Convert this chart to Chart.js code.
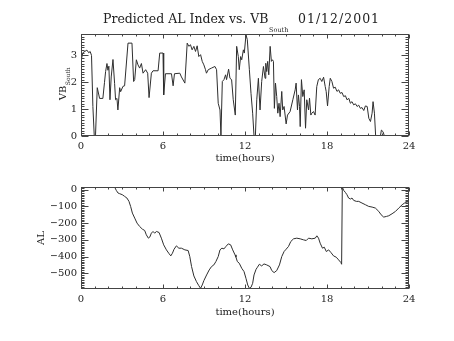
<!DOCTYPE html>
<html>
<head>
<meta charset="utf-8">
<script src="https://cdn.jsdelivr.net/npm/chart.js@4/dist/chart.umd.min.js"></script>
<style>
html, body { margin: 0; padding: 0; background: #fff; }
#wrap { position: relative; width: 454px; height: 341px; }
canvas { position: absolute; left: 0; }
</style>
</head>
<body>
<div id="wrap">
  <canvas id="vb-chart" width="454" height="170" style="top:0"></canvas>
  <canvas id="al-chart" width="454" height="171" style="top:170px"></canvas>
</div>
<script>
// time axis (hours) shared by both panels
const xTicks = [0, 6, 12, 18, 24];

// VB south, top panel
const tVB = [0, 0.13, 0.43, 0.57, 0.67, 0.77, 0.87, 0.97, 1.06, 1.19,
  1.36, 1.6, 1.72, 1.8, 1.9, 1.97, 2.04, 2.12, 2.21, 2.34,
  2.46, 2.53, 2.63, 2.7, 2.83, 2.9, 3.07, 3.19, 3.44, 3.73,
  3.85, 3.93, 4.05, 4.17, 4.29, 4.42, 4.54, 4.73, 4.88, 4.98,
  5.15, 5.27, 5.64, 5.76, 6.0, 6.05, 6.18, 6.62, 6.74, 6.84,
  7.23, 7.35, 7.6, 7.77, 7.89, 8.01, 8.13, 8.26, 8.38, 8.5,
  8.62, 8.75, 8.87, 8.99, 9.11, 9.18, 9.31, 9.55, 9.8, 9.92,
  10.04, 10.17, 10.24, 10.34, 10.46, 10.58, 10.65, 10.8, 10.9, 11.02,
  11.14, 11.29, 11.39, 11.51, 11.58, 11.68, 11.76, 11.88, 11.95, 12.07,
  12.17, 12.32, 12.44, 12.56, 12.66, 12.76, 12.86, 12.98, 13.1, 13.22,
  13.35, 13.47, 13.52, 13.59, 13.66, 13.74, 13.84, 13.93, 14.01, 14.08,
  14.15, 14.23, 14.32, 14.4, 14.49, 14.57, 14.69, 14.76, 14.86, 15.01,
  15.11, 15.3, 15.5, 15.67, 15.74, 15.84, 15.91, 15.99, 16.04, 16.13,
  16.23, 16.33, 16.43, 16.52, 16.65, 16.72, 16.82, 16.89, 17.01, 17.13,
  17.25, 17.37, 17.5, 17.62, 17.75, 17.87, 17.94, 18.04, 18.16, 18.24,
  18.36, 18.48, 18.6, 18.73, 18.85, 18.97, 19.1, 19.22, 19.35, 19.46,
  19.6, 19.71, 19.83, 19.95, 20.08, 20.2, 20.32, 20.44, 20.56, 20.69,
  20.81, 20.94, 21.06, 21.18, 21.3, 21.37, 21.47, 21.56,
  21.91, 21.98, 22.1, 22.2, 24];
const vbSouth = [2.78, 3.1, 3.2, 3.1, 3.15, 3.0, 1.1, 0, 0, 1.8,
  1.4, 1.4, 2.0, 2.4, 2.7, 2.45, 2.6, 1.35, 2.2, 2.85,
  1.95, 1.35, 1.4, 0.97, 1.8, 1.65, 1.85, 1.87, 3.46, 3.46,
  2.03, 2.1, 2.84, 2.65, 2.53, 2.7, 2.34, 2.47, 2.34, 1.43,
  2.34, 2.43, 2.43, 3.09, 3.09, 1.53, 2.32, 2.32, 1.87, 2.32,
  2.34, 2.2, 1.97, 3.46, 3.34, 3.4, 3.21, 3.34, 3.15, 3.36,
  2.96, 3.03, 2.78, 2.65, 2.47, 2.34, 2.47, 2.53, 2.59, 2.47,
  1.22, 0.97, 0, 2.03, 2.1, 2.28, 2.1, 2.49, 2.15, 2.1,
  1.35, 0.78, 3.34, 2.96, 2.47, 2.96, 2.84, 3.21, 3.09, 3.77,
  3.59, 2.47, 1.59, 0.85, 0, 0, 1.35, 2.15, 0.97, 2.03,
  2.59, 2.15, 2.71, 2.4, 2.78, 2.28, 3.34, 2.78, 2.84, 2.78,
  1.03, 1.97, 1.47, 0.85, 1.22, 0.72, 1.66, 0.97, 1.1, 0.45,
  0.78, 0.91, 1.35, 1.72, 1.97, 0.97, 1.53, 1.1, 0.35, 2.1,
  1.47, 1.72, 0.29, 1.35, 0.97, 1.41, 0.78, 0.85, 0.91, 0.78,
  1.84, 2.1, 2.15, 2.03, 2.19, 1.84, 1.66, 1.12, 1.84, 2.15,
  2.03, 1.78, 1.82, 1.66, 1.72, 1.59, 1.62, 1.47, 1.5, 1.35,
  1.4, 1.22, 1.28, 1.16, 1.2, 1.1, 1.15, 1.03, 1.06, 0.95,
  1.12, 1.1, 0.66, 0.54, 0.85, 1.28, 0.85, 0,
  0, 0.22, 0.16, 0, 0];
const vbTicks = [0, 1, 2, 3];

// predicted AL index, bottom panel
const tAL = [2.46, 2.58, 2.71, 2.83, 3.02, 3.19, 3.36, 3.51, 3.63, 3.76,
  3.93, 4.1, 4.29, 4.49, 4.66, 4.78, 4.93, 5.03, 5.15, 5.27,
  5.39, 5.52, 5.71, 5.88, 6.05, 6.25, 6.42, 6.57, 6.69, 6.81,
  6.98, 7.16, 7.35, 7.6, 7.84, 7.96, 8.09, 8.26, 8.45, 8.62,
  8.75, 8.87, 8.99, 9.19, 9.38, 9.55, 9.72, 9.87, 10.04, 10.17,
  10.31, 10.46, 10.6, 10.78, 10.95, 11.1, 11.27, 11.34, 11.44, 11.58,
  11.76, 11.93, 12.07, 12.2, 12.32, 12.44, 12.56, 12.66, 12.81, 12.91,
  13.05, 13.22, 13.39, 13.59, 13.83, 13.96, 14.13, 14.32, 14.52, 14.69,
  14.86, 15.01, 15.18, 15.35, 15.55, 15.79, 16.04, 16.28, 16.48, 16.65,
  16.89, 17.14, 17.26, 17.38, 17.5, 17.67, 17.8, 17.95, 18.12, 18.29,
  18.48, 18.68, 18.85, 19.02, 19.07, 19.12, 19.22, 19.34, 19.46, 19.58,
  19.71, 19.83, 19.95, 20.15, 20.32, 20.56, 20.81, 21.05, 21.3, 21.54,
  21.79, 21.96, 22.15, 22.35, 22.52, 22.76, 23.01, 23.25, 23.5, 23.67,
  23.82, 24];
const alIndex = [16, -4, -20, -24, -30, -40, -50, -70, -100, -140,
  -170, -200, -220, -236, -244, -270, -290, -284, -260, -250,
  -260, -250, -256, -290, -330, -360, -380, -396, -380, -356,
  -336, -350, -350, -360, -364, -400, -460, -516, -550, -574,
  -590, -570, -544, -510, -480, -460, -450, -430, -400, -360,
  -350, -354, -340, -324, -330, -360, -390, -404, -430, -440,
  -470, -490, -530, -570, -590, -584, -560, -510, -476, -464,
  -446, -456, -444, -450, -460, -484, -496, -484, -450, -400,
  -370, -356, -340, -310, -294, -290, -294, -300, -304, -290,
  -294, -290, -276, -290, -320, -350, -344, -370, -360, -376,
  -396, -404, -420, -436, -446, 16, -4, -16, -30, -50,
  -56, -50, -64, -70, -70, -80, -90, -100, -104, -110,
  -130, -150, -164, -160, -156, -144, -130, -110, -90, -80,
  -76, -70];
const alTicks = [0, -100, -200, -300, -400, -500];

const FONT = "'DejaVu Serif', serif";
const INK = "#222";

// IDL style box with inward tick marks + hand placed titles
const idlFrame = {
  id: "idlFrame",
  afterDraw(chart, args, o) {
    const { ctx, chartArea: a, scales: { x, y } } = chart;
    const L = Math.round(a.left) + 0.5, R = Math.round(a.right) - 0.5;
    const T = Math.round(a.top) + 0.5, B = Math.round(a.bottom) - 0.5;
    ctx.save();
    ctx.strokeStyle = "#444";
    ctx.lineWidth = 1;
    ctx.strokeRect(L, T, R - L, B - T);
    ctx.beginPath();
    for (let h = 0; h <= 24; h++) {
      const px = Math.round(x.getPixelForValue(h)) + 0.5;
      const len = h % 6 === 0 ? 4 : 2;
      ctx.moveTo(px, B); ctx.lineTo(px, B - len);
      ctx.moveTo(px, T); ctx.lineTo(px, T + len);
    }
    const i0 = Math.ceil(y.min / o.minor - 1e-6), i1 = Math.floor(y.max / o.minor + 1e-6);
    for (let i = i0; i <= i1; i++) {
      const v = i * o.minor;
      const r = v / o.major;
      const len = Math.abs(r - Math.round(r)) < 1e-6 ? 7 : 3;
      const py = Math.round(y.getPixelForValue(v)) + 0.5;
      ctx.moveTo(L, py); ctx.lineTo(L + len, py);
      ctx.moveTo(R, py); ctx.lineTo(R - len, py);
    }
    ctx.stroke();

    ctx.fillStyle = INK;
    ctx.textBaseline = "alphabetic";
    // y axis title, rotated, with optional subscript
    ctx.save();
    ctx.translate(o.yTitleX, o.yTitleY);
    ctx.rotate(-Math.PI / 2);
    ctx.font = "10px " + FONT;
    const w1 = ctx.measureText(o.yTitle).width;
    ctx.font = "6px " + FONT;
    const w2 = o.ySub ? ctx.measureText(o.ySub).width : 0;
    let sx = -(w1 + w2) / 2;
    ctx.font = "10px " + FONT;
    ctx.textAlign = "left";
    ctx.fillText(o.yTitle, sx, 4);
    if (o.ySub) {
      ctx.font = "6px " + FONT;
      ctx.fillText(o.ySub, sx + w1 + 0.5, 8);
    }
    ctx.restore();

    // main title
    if (o.title) {
      ctx.textAlign = "left";
      ctx.font = "12.5px " + FONT;
      ctx.fillText(o.title[0], 103, 23);
      const tw = ctx.measureText(o.title[0]).width;
      ctx.font = "6.5px " + FONT;
      ctx.fillText(o.title[1], 103 + tw + 0.5, 32);
      ctx.font = "12.5px " + FONT;
      ctx.letterSpacing = "1px";
      ctx.fillText(o.title[2], 298, 23);
      ctx.letterSpacing = "0px";
    }
    ctx.restore();
  }
};

function xScale(height, padBottom) {
  return {
    type: "linear", min: 0, max: 24,
    afterFit: s => { s.height = height; },
    afterBuildTicks: s => { s.ticks = xTicks.map(v => ({ value: v })); },
    grid: { display: false, drawTicks: false },
    border: { display: false },
    ticks: { color: INK, font: { family: FONT, size: 10 }, padding: 4, maxRotation: 0 },
    title: { display: true, text: "time(hours)", color: INK, font: { family: FONT, size: 10 }, padding: { top: 0, bottom: padBottom } }
  };
}

function yScale(min, max, ticks, fmt) {
  return {
    type: "linear", min: min, max: max,
    afterFit: s => { s.width = 30; },
    afterBuildTicks: s => { s.ticks = ticks.map(v => ({ value: v })); },
    grid: { display: false, drawTicks: false },
    border: { display: false },
    ticks: { color: INK, font: { family: FONT, size: 10 }, padding: 4, callback: fmt }
  };
}

const minus = v => (v < 0 ? "\u2212" + Math.abs(v) : String(v));

new Chart(document.getElementById("vb-chart"), {
  type: "line",
  data: {
    datasets: [{
      data: tVB.map((t, i) => ({ x: t, y: vbSouth[i] })),
      borderColor: "#2e2e2e", borderWidth: 1, pointRadius: 0, tension: 0
    }]
  },
  options: {
    responsive: false, animation: false, devicePixelRatio: 1,
    layout: { padding: { left: 51, right: 45, top: 34, bottom: 4 } },
    scales: { x: xScale(30, 2), y: yScale(0, 3.8, vbTicks, minus) },
    plugins: {
      legend: { display: false }, tooltip: { enabled: false },
      idlFrame: { minor: 0.1, major: 1, yTitle: "VB", ySub: "South", yTitleX: 62, yTitleY: 84,
        title: ["Predicted AL Index vs. VB", "South", "01/12/2001"] }
    }
  },
  plugins: [idlFrame]
});

new Chart(document.getElementById("al-chart"), {
  type: "line",
  data: {
    datasets: [{
      data: tAL.map((t, i) => ({ x: t, y: alIndex[i] })),
      borderColor: "#2e2e2e", borderWidth: 1, pointRadius: 0, tension: 0
    }]
  },
  options: {
    responsive: false, animation: false, devicePixelRatio: 1,
    layout: { padding: { left: 51, right: 45, top: 17, bottom: 22 } },
    scales: { x: xScale(30, 1), y: yScale(-594, 16, alTicks, minus) },
    plugins: {
      legend: { display: false }, tooltip: { enabled: false },
      idlFrame: { minor: 10, major: 100, yTitle: "AL", yTitleX: 40, yTitleY: 68 }
    }
  },
  plugins: [idlFrame]
});
</script>
</body>
</html>
